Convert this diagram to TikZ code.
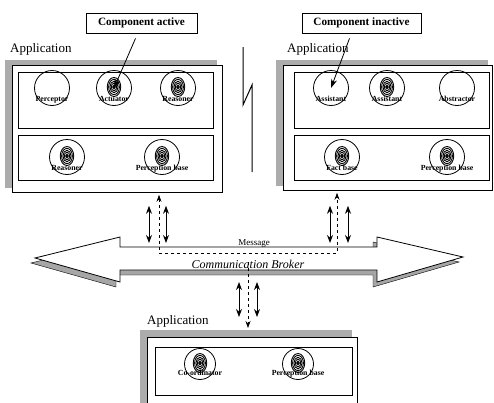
\documentclass[tikz,border=0pt]{standalone}
\usepackage{fontspec}
\setmainfont{Liberation Serif}
\usetikzlibrary{arrows.meta,calc}

\tikzset{
  note/.style={draw, line width=0.8pt, minimum height=20pt, inner sep=0pt,
    font=\bfseries\fontsize{11.2}{12}\selectfont},
  title/.style={anchor=base west, inner sep=0pt, font=\fontsize{13}{14}\selectfont},
  shadebox/.style={fill=gray!65, anchor=north west, inner sep=0pt},
  app/.style={draw, fill=white, line width=0.8pt, anchor=north west, inner sep=0pt},
  part/.style={draw, line width=0.8pt, anchor=north west, inner sep=0pt},
  comp/.style={draw, circle, minimum size=35pt, line width=0.8pt, inner sep=0pt,
    label={[inner sep=0pt, label distance=-10pt,
      font=\bfseries\fontsize{7.8}{8}\selectfont]below:#1}},
  active/.style={path picture={
    \foreach \r in {1,...,5}
      \draw[line width=0.9pt] ([yshift=1pt]path picture bounding box.center)
        ellipse[x radius=1.35pt*\r, y radius=1.9pt*\r];
    \fill ([yshift=1pt]path picture bounding box.center) circle (1.4pt);}},
  link/.style={{Stealth[length=8pt,width=6pt]}-{Stealth[length=8pt,width=6pt]}, line width=1pt},
  flow/.style={dashed, line width=0.7pt},
  pointer/.style={-{Stealth[length=9pt,width=6pt]}, line width=0.8pt}
}

\begin{document}
\begin{tikzpicture}[x=1pt,y=-1pt]
\useasboundingbox (0,0) rectangle (494,402);

% notes
\node[note, minimum width=111pt] (cact) at (141.5,23) {Component active};
\node[note, minimum width=119pt] (cinact) at (361.5,23) {Component inactive};

% left application
\node[title] (titleL) at (10,52) {Application};
\node[shadebox, minimum width=212pt, minimum height=128pt] (appLs) at (5,60) {};
\node[app, minimum width=210pt, minimum height=127pt] (appL) at (12,65) {};
\node[part, minimum width=195pt, minimum height=56pt] (partL1) at (18,72) {};
\node[part, minimum width=195pt, minimum height=45pt] (partL2) at (18,135) {};
\node[comp=Perceptor] (percL) at (52,88) {};
\node[comp=Actuator, active] (actL) at (114,88) {};
\node[comp=Reasoner, active] (reasL) at (178,88) {};
\node[comp=Reasoner, active] (reasL2) at (67,157) {};
\node[comp=Perception base, active] (pbaseL) at (162,157) {};

% right application
\node[title] (titleR) at (287,52) {Application};
\node[shadebox, minimum width=212pt, minimum height=126pt] (appRs) at (276,60) {};
\node[app, minimum width=209pt, minimum height=125pt] (appR) at (283,65) {};
\node[part, minimum width=195pt, minimum height=56pt] (partR1) at (294,72) {};
\node[part, minimum width=195pt, minimum height=45pt] (partR2) at (294,135) {};
\node[comp=Assistant] (asstR) at (331,88) {};
\node[comp=Assistant, active] (asstR2) at (387,88) {};
\node[comp=Abstractor] (abstR) at (457,88) {};
\node[comp=Fact base, active] (factR) at (342,157) {};
\node[comp=Perception base, active] (pbaseR) at (447,157) {};

% bottom application
\node[title] (titleB) at (147,324) {Application};
\node[shadebox, minimum width=212pt, minimum height=80pt] (appBs) at (140,330) {};
\node[app, minimum width=210pt, minimum height=75pt] (appB) at (147,337) {};
\node[part, minimum width=197pt, minimum height=48pt] (partB) at (155,347) {};
\node[comp=Co-ordinator, active, minimum size=31pt] (coordB) at (200,364) {};
\node[comp=Perception base, active, minimum size=31pt] (pbaseB) at (298,364) {};

\draw[pointer] ([xshift=-6pt,yshift=-5pt]cact.south) -- (actL.center);
\draw[pointer] ([xshift=-12pt,yshift=-5pt]cinact.south) -- (asstR.center);

% break line
\draw[line width=1pt] (243,47) -- (243,105) -- (252,85) -- (252,172);

% broker
\draw[fill=gray!70] (31,263) -- (116,242) -- (116,252) -- (373,252) -- (373,242)
  -- (459,262) -- (373,287) -- (373,275) -- (116,275) -- (116,287) -- cycle;
\draw[fill=white, line width=0.8pt] (35,258) -- (120,237) -- (120,247) -- (377,247)
  -- (377,237) -- (463,257) -- (377,282) -- (377,270) -- (120,270) -- (120,282) -- cycle;
\node[inner sep=0pt, anchor=base, font=\fontsize{9}{10}\selectfont] (msg) at (254,245.5) {Message};
\node[inner sep=0pt, font=\itshape\fontsize{12}{13}\selectfont] (broker) at (248,264) {Communication Broker};
\coordinate (brkT) at (0,243);
\coordinate (brkB) at (0,282);
\coordinate (dashL) at (159,253);
\coordinate (dashR) at (337,253);
\coordinate (dashB) at (248,262);

\foreach \x in {149,166}
  \draw[link] ([yshift=-13pt]appL.south -| \x,0) -- (brkT -| \x,0);
\foreach \x in {330,348}
  \draw[link] ([yshift=-15pt]appR.south -| \x,0) -- (brkT -| \x,0);
\foreach \x in {239,257}
  \draw[link] (brkB -| \x,0) -- ([yshift=13pt]appBs.north -| \x,0);

\draw[flow, {Stealth[length=7pt,width=5pt]}-{Stealth[length=7pt,width=5pt]}]
  ([yshift=-2pt]appL.south -| dashL) -- (dashL) -- (dashR) -- ([yshift=-2pt]appR.south -| dashR);
\draw[flow, -{Stealth[length=7pt,width=5pt]}] (dashB) -- ([yshift=2pt]appBs.north -| dashB);
\end{tikzpicture}
\end{document}
